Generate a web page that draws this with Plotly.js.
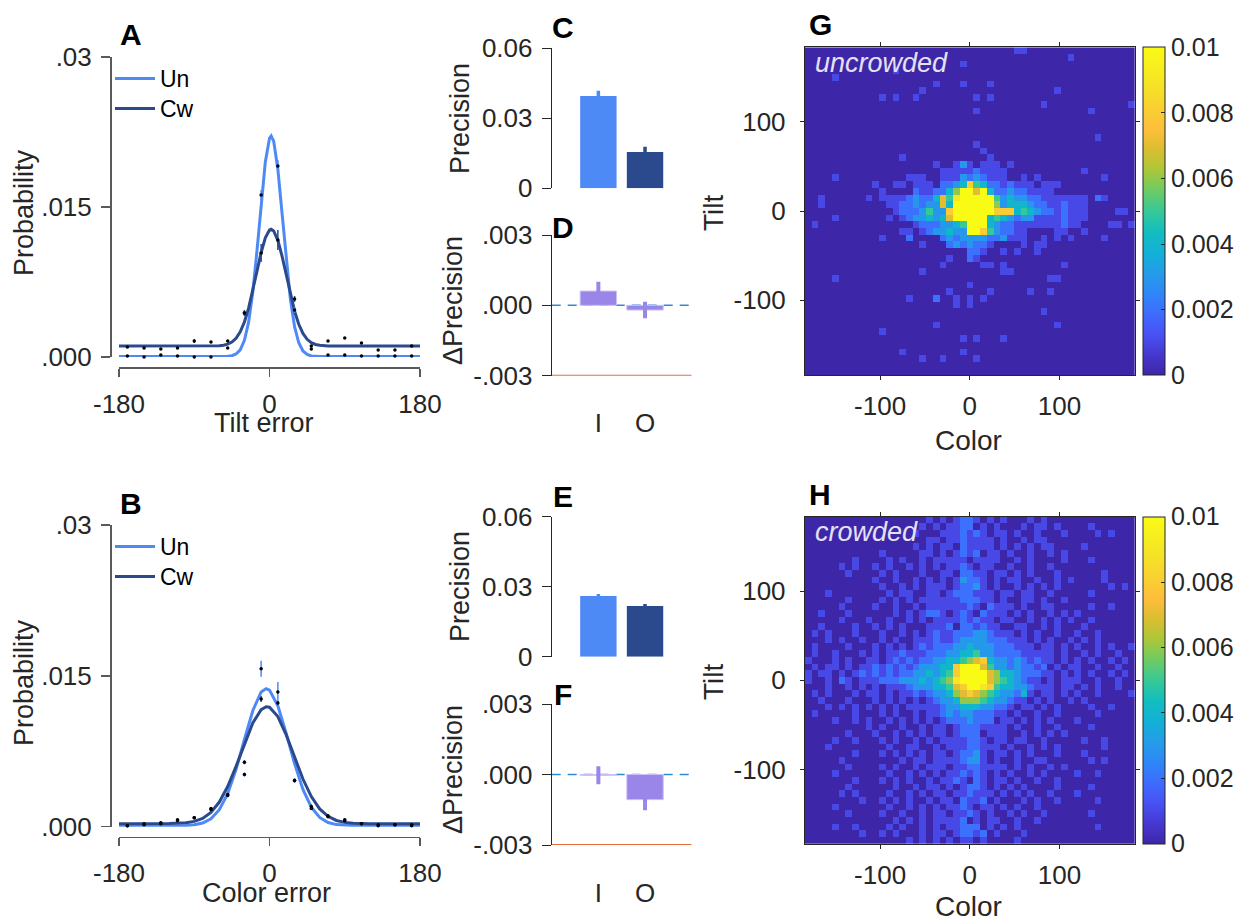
<!DOCTYPE html>
<html><head><meta charset="utf-8">
<script src="https://cdn.plot.ly/plotly-3.0.1.min.js"></script>
<style>html,body{margin:0;padding:0;background:#fff;} #chart{width:1245px;height:924px;}</style>
</head><body><div id="chart"></div>
<script>
// ---------- data: panels A/B (error distributions) ----------
const curveX = [-180,-120,-90,-70,-60,-55,-50,-45,-40,-35,-30,-25,-20,-15,-10,-5,0,2,5,10,15,20,25,30,35,40,45,50,55,60,70,90,120,180];
const tiltUnFit = [0.00005,0.00005,0.00005,0.00005,0.00005,0.00006,0.00007,0.00013,0.0003,0.00072,0.00167,0.00348,0.00646,0.0106,0.01532,0.01951,0.02187,0.0221,0.02159,0.01878,0.01438,0.0097,0.00577,0.00303,0.00142,0.0006,0.00025,0.00011,0.00007,0.00005,0.00005,0.00005,0.00005,0.00005];
const tiltCwFit = [0.0011,0.0011,0.0011,0.00111,0.00113,0.00118,0.00128,0.00149,0.00187,0.00251,0.0035,0.00489,0.00663,0.00857,0.01045,0.01192,0.0127,0.01277,0.01261,0.01167,0.01009,0.00818,0.00626,0.00458,0.00327,0.00236,0.00177,0.00143,0.00125,0.00117,0.00111,0.0011,0.0011,0.0011];
const curveXB = [-180,-150,-120,-100,-90,-80,-70,-60,-50,-40,-30,-20,-10,-4,0,10,20,30,40,50,60,70,80,90,100,120,150,180];
const colorUnFit = [0.0001,0.0001,0.0001,0.00012,0.00019,0.00036,0.00079,0.00169,0.00329,0.0057,0.00867,0.01153,0.0134,0.01373,0.01358,0.01202,0.00928,0.00627,0.00371,0.00194,0.00092,0.00042,0.00021,0.00013,0.00011,0.0001,0.0001,0.0001];
const colorCwFit = [0.0003,0.0003,0.00031,0.00039,0.00053,0.00083,0.00142,0.00245,0.00399,0.006,0.00826,0.01031,0.01164,0.01193,0.01188,0.01095,0.00913,0.0069,0.00474,0.003,0.00177,0.00103,0.00062,0.00043,0.00035,0.0003,0.0003,0.0003];

const errBins = [-170,-150,-130,-110,-90,-70,-50,-30,-10,10,30,50,70,90,110,130,150,170];
const tiltUnObs = [0.0001,0.0000,0.0002,0.0001,0.0000,0.0000,0.0009,0.0044,0.0162,0.0191,0.0047,0.0008,0.0002,0.0002,0.0001,0.0001,0.0001,0.0001];
const tiltUnSem = [0.0001,0.0001,0.0001,0.0001,0.0001,0.0001,0.0001,0.0002,0.0005,0.0006,0.0003,0.0001,0.0001,0.0001,0.0001,0.0001,0.0001,0.0001];
const tiltCwObs = [0.0010,0.0009,0.0008,0.0009,0.0016,0.0015,0.0016,0.0044,0.0104,0.0117,0.0058,0.0011,0.0016,0.0019,0.0014,0.0007,0.0007,0.0011];
const tiltCwSem = [0.0001,0.0001,0.0001,0.0001,0.0002,0.0001,0.0001,0.0003,0.0009,0.0010,0.0003,0.0001,0.0001,0.0001,0.0001,0.0001,0.0001,0.0001];
const colorUnObs = [0.0001,0.0002,0.0003,0.0006,0.0009,0.0017,0.0031,0.0052,0.0157,0.0134,0.0046,0.0018,0.0010,0.0006,0.0003,0.0001,0.0002,0.0001];
const colorUnSem = [0.0001,0.0001,0.0001,0.0001,0.0001,0.0001,0.0001,0.0002,0.0008,0.0010,0.0002,0.0001,0.0001,0.0001,0.0001,0.0001,0.0001,0.0001];
const colorCwObs = [0.0001,0.0003,0.0004,0.0007,0.0009,0.0018,0.0032,0.0064,0.0127,0.0123,0.0046,0.0020,0.0011,0.0007,0.0003,0.0002,0.0002,0.0002];
const colorCwSem = [0.0001,0.0001,0.0001,0.0001,0.0001,0.0001,0.0001,0.0002,0.0003,0.0002,0.0002,0.0002,0.0001,0.0001,0.0001,0.0001,0.0001,0.0001];

// ---------- data: panels C-F (precision) ----------
const condLabels = ['I','O'];
const condPos = [1,2];
const precTilt = [0.0396, 0.0156];
const precTiltErr = [0.0022, 0.0022];
const dPrecTilt = [0.00061, -0.0002];
const dPrecTiltErr = [0.0004, 0.00035];
const precColor = [0.0260, 0.0217];
const precColorErr = [0.0009, 0.0009];
const dPrecColor = [-0.00003, -0.00107];
const dPrecColorErr = [0.00038, 0.00045];

// ---------- data: panels G/H (joint error histograms) ----------
const binCenters = [-180,-172.5,-165,-157.5,-150,-142.5,-135,-127.5,-120,-112.5,-105,-97.5,-90,-82.5,-75,-67.5,-60,-52.5,-45,-37.5,-30,-22.5,-15,-7.5,0,7.5,15,22.5,30,37.5,45,52.5,60,67.5,75,82.5,90,97.5,105,112.5,120,127.5,135,142.5,150,157.5,165,172.5,180];
// rows top (tilt +180) to bottom (tilt -180); '.'=0, digit d = d*0.001, 'a' >= 0.01
const uncrowdedRows = [
".......... .......... .......... .11....... .........",
".......... .......... .......... .........1 .........",
".......... .......... ...1...... .......... .........",
".......... ...1...... .......... .......... .........",
"....1..... .......... .......... .......... .........",
".......... .........1 ...1...1.. .......... .........",
".......... .......1.. .......... .......1.. .........",
".......... .1.1..1... .....1.1.. .......... .........",
".......... .......... .......... .....1.... ........1",
".......... .......... .....1.... .......... ..1......",
".......... .......... .......... .......... .........",
".......... .......... .......... .......... .........",
".......... .......... .......... .......... .........",
".......... .......... .......... .......... ...1.....",
".......... .......... .....1.... .......... .........",
".......... .......... ......1... .......... .........",
".......... ....1..... .......1.. .......... .........",
".......... .........1 ..131.111. 1......... .........",
".......... .......... 1111121111 .......... .1.......",
"....1..... .....111.. 1113232111 ..1.1..... ....1....",
".......... 1..11.111. 2234854221 2111.111.. .........",
".......... .1....2112 246aa7a422 3221111... .........",
"..1......1 .111123224 759aaaaa53 4332211111 11.21....",
"..1....... ..11223233 74aaaaaa63 4443221121 11.......",
".......... ...1222353 38aaaaaa88 8454322121 11....11.",
"....1..... ..1.123343 47aaaaa454 3233111121 11.......",
".1........ ......1222 3345aaa432 2111111121 1....11.1",
".......... ....11.123 3433aa8532 211....11. .1.......",
".......... .1...2.... 2323333223 111..1.1.1 ....1....",
".......... .......1.. .2323221.. ..1.11.... .........",
".......... .......... ....221..1 .1..1..... .........",
".......... .......... .1..21.... .......... .........",
".......... .......... 1.....11.1 ........1. .........",
".......... .......1.. .........1 1......... .........",
"....1..... .......... .......... ......11.. .........",
".......... .......... ....1..... .......... .........",
".......... .......... .1.....1.. ...1..1... .........",
".......... .....1...2 ..1.1.1... .......... .........",
".......... .......... ..1.1..... .......... .........",
".......... .......... .......... .....1.... .........",
".......... .......... .......... .......... .........",
".......... .........1 .......... .......1.. .........",
".......... .1........ .......... .......... .........",
".......... .......... ...1.1...1 .......... .........",
".......... .......... .......... .......... .........",
".......... ....1..... ...1...... .......... .........",
".......... .......1.. 1....1.... .......... .........",
".......... .......... .......... .......... .........",
".......... .......... .......... .......... ........."
];
const crowdedRows = [
".......... ........1. 1.1221.1.1 ...1.1.... .........",
".......... .......1.1 .1122.1.1. ..1.11.1.. ..1......",
".......... ......1... 1112121.11 .1..1...1. ...1.1...",
".......... ........11 .1121111.1 ..1.11.... .........",
".......... ......1.1. 11.21111.1 .1.1.11... .1.......",
".......... .1.....11. 1.1212.11. 1..1..1.1. .........",
".......1.. ..1.1..1.1 1111.1111. .1.1....1. ..1......",
".....1.1.. 1.1..1.1.1 .1121.11.. 1..1..1... .........",
"......1... .1.1...1.. 11.2211.11 .1.1...1.. ....1....",
".......... 1..1..1.1. 1.13221.1. 11..1..1.1 ....1....",
".......... .1..1.1.11 1.12231.1. .1.1.1.1.. .....1.1.",
"...1...... ..1.11..11 .1222111.1 1.11..1... ..1......",
"......1... .1.1.1.111 11122211.1 ..11.1..1. .........",
".....1.... 1..1..1.11 111121.211 1.1..11... ..1..1...",
"..1...1... ...1.1.122 1.121.2111 .1.1..1.1. 1........",
".....1...1 ..1..1.1.1 11121211.1 1..1.1.1.1 ..1......",
"..1....1.. 1.1.1...11 12.221211. .11..1.1.. .1.......",
".1.1...1.. .1..1.1.12 1122233211 1.1.1..1.. 1..1.....",
"...1.1..1. .1.1..1112 1123333222 111.1.1..1 .1.1.....",
".1....1... 1.1.1.1212 2233433322 2111.11.1. 1..1.1..1",
".1..1...1. 1.11211122 2334453322 2211111.1. .1.1..1..",
"1...1.1..1 1.12121223 3445678433 2321211.1. 1.1..1.1.",
".1.11.1.11 2121212333 448aaa7533 232212.1.1 1..1..1..",
"1.11.1.121 2121223343 458aaaa764 4322211.1. 1.1..1.1.",
"1..1.21.11 1222333434 569aaaa765 43211.1.11 1..1..1..",
"...1..1.1. 1.11123334 4578aa9854 4332111.11 .1.1..1..",
".1.1...1.1 1.1.112123 3467876543 3241.11.1. 1..1....1",
"..1...1... 1.1.1.1.12 3346665433 211.1.1..1 .1.......",
"...1.1.1.1 .1.1.11111 2334443322 1.11.1.1.. ..1..1...",
".1.....1.. .1.1..1.11 2323322211 .1..1..1.. ...1.....",
"....1..1.1 ..1.1.1.1. 12223222.1 1.1.1.1... 1........",
".........1 .1..1..1.1 1.12221111 .1..1..1.. ..1......",
"......1... 1..1.1.1.1 1.1222.111 ..1.1.1.1. .........",
"....1..1.. .1.1..1.1. 1111221.11 .11..1.... .1..1....",
"...1...... ..1..11..1 .11122111. 1..1.1.1.. ....1....",
".......1.. .1.1.1.1.1 1.12231.11 .1.1...1.. .1.......",
".....1.... ....1.11.1 1112331.1. .1..11.... ..1.1....",
"......1... .1.1..1.11 1.11221111 .1.1..1.1. .........",
"....1..... ..1..1.1.1 .112121.1. 1..1.1.... 1..1.....",
".......1.. .1.1.1..1. 1121.21.11 .1..1..1.. .........",
"......1... ...1..1.11 .1.1221.1. 1.1....1.. ..1......",
".....1.1.. ..1..1.1.1 1.112111.1 .1.1..1... 1........",
"........1. .1.1.1..1. 11.2112.1. ..1.1..1.. ...1.....",
"....1..... ..1..1.1.1 .1121.11.1 .1..1..... .........",
"......1... .1..1..1.1 1.1121.1.. 1.1..1.... ..1......",
".......... ...1.1.1.1 1112.1.11. .1..1..... .........",
"....1..1.. ..1.1..1.1 .11222.1.1 .1........ ...1.....",
"........1. .1.1...1.1 1.12212.1. ..1....... .........",
".......... .....1.1.1 .1.11.1... .1........ ........."
];
const cbTickVals = [0,0.002,0.004,0.006,0.008,0.01];
const cbTickText = ['0','0.002','0.004','0.006','0.008','0.01'];

// ---------- helpers ----------
const W = 1245, H = 924;
const px = v => v / W;
const py = v => 1 - v / H;
function parseGrid(rows){
  return rows.map(r => {
    const s = r.replace(/ /g,'');
    const out = [];
    for (let i = 0; i < binCenters.length; i++) {
      const ch = s[i] || '.';
      out.push(ch === '.' ? 0 : (ch === 'a' ? 0.011 : parseInt(ch, 10) * 0.001));
    }
    return out;
  }).reverse(); // bottom row first
}
const parula = [
  [0.000,'rgb(62,38,168)'],[0.063,'rgb(70,56,208)'],[0.125,'rgb(72,82,244)'],
  [0.188,'rgb(62,108,253)'],[0.250,'rgb(46,135,247)'],[0.313,'rgb(36,157,232)'],
  [0.375,'rgb(18,177,214)'],[0.438,'rgb(18,190,190)'],[0.500,'rgb(55,200,151)'],
  [0.563,'rgb(110,203,100)'],[0.625,'rgb(171,199,57)'],[0.688,'rgb(219,189,48)'],
  [0.750,'rgb(254,190,60)'],[0.875,'rgb(245,225,40)'],[1.000,'rgb(249,251,21)']
];

const unColor = '#4E8AF6', cwColor = '#2B4A8E';
const purple = '#9A86E8';
const axCol = '#262626';
const tickFont = {size: 26, color: axCol};

const traces = [];
// A
traces.push({x: curveX, y: tiltUnFit, type:'scatter', mode:'lines', line:{color:unColor, width:3}, name:'Un', xaxis:'x', yaxis:'y', legend:'legend', hoverinfo:'skip'});
traces.push({x: curveX, y: tiltCwFit, type:'scatter', mode:'lines', line:{color:cwColor, width:3}, name:'Cw', xaxis:'x', yaxis:'y', legend:'legend3', hoverinfo:'skip'});
traces.push({x: errBins, y: tiltUnObs, type:'scatter', mode:'markers', marker:{color:'#000', size:3.5}, error_y:{type:'data', array:tiltUnSem, color:unColor, thickness:1.5, width:0}, showlegend:false, xaxis:'x', yaxis:'y', cliponaxis:false, hoverinfo:'skip'});
traces.push({x: errBins, y: tiltCwObs, type:'scatter', mode:'markers', marker:{color:'#000', size:3.5}, error_y:{type:'data', array:tiltCwSem, color:cwColor, thickness:1.5, width:0}, showlegend:false, xaxis:'x', yaxis:'y', cliponaxis:false, hoverinfo:'skip'});
// B
traces.push({x: curveXB, y: colorUnFit, type:'scatter', mode:'lines', line:{color:unColor, width:3}, name:'Un', xaxis:'x2', yaxis:'y2', legend:'legend2', hoverinfo:'skip'});
traces.push({x: curveXB, y: colorCwFit, type:'scatter', mode:'lines', line:{color:cwColor, width:3}, name:'Cw', xaxis:'x2', yaxis:'y2', legend:'legend4', hoverinfo:'skip'});
traces.push({x: errBins, y: colorUnObs, type:'scatter', mode:'markers', marker:{color:'#000', size:3.5}, error_y:{type:'data', array:colorUnSem, color:unColor, thickness:1.5, width:0}, showlegend:false, xaxis:'x2', yaxis:'y2', cliponaxis:false, hoverinfo:'skip'});
traces.push({x: errBins, y: colorCwObs, type:'scatter', mode:'markers', marker:{color:'#000', size:3.5}, error_y:{type:'data', array:colorCwSem, color:cwColor, thickness:1.5, width:0}, showlegend:false, xaxis:'x2', yaxis:'y2', cliponaxis:false, hoverinfo:'skip'});
// C & E precision bars (one trace per condition so error bars match bar colour)
[[precTilt, precTiltErr, 'x3', 'y3'], [precColor, precColorErr, 'x5', 'y5']].forEach(([vals, errs, xa, ya]) => {
  [0,1].forEach(i => {
    const c = i === 0 ? unColor : cwColor;
    traces.push({type:'bar', x:[condPos[i]], y:[vals[i]], width:0.78, marker:{color:c, line:{width:0}},
      error_y:{type:'data', array:[errs[i]], color:c, thickness:3.5, width:0},
      showlegend:false, xaxis:xa, yaxis:ya, hoverinfo:'skip'});
  });
});
// D & F delta precision bars
[[dPrecTilt, dPrecTiltErr, 'x4', 'y4'], [dPrecColor, dPrecColorErr, 'x6', 'y6']].forEach(([vals, errs, xa, ya]) => {
  traces.push({type:'bar', x:condPos, y:vals, width:0.78, marker:{color:purple, line:{color:'#C9C0F6', width:1}},
    error_y:{type:'data', array:errs, color:purple, thickness:4, width:0},
    showlegend:false, xaxis:xa, yaxis:ya, hoverinfo:'skip'});
});
// G & H heatmaps
function cb(topPx, lenPx){
  return {x:px(1143.3), xanchor:'left', xref:'paper', y:py(topPx), yanchor:'top', yref:'paper',
    len:lenPx, lenmode:'pixels', thickness:22, thicknessmode:'pixels', xpad:0, ypad:0,
    outlinewidth:1, outlinecolor:axCol, tickvals:cbTickVals, ticktext:cbTickText,
    ticks:'inside', ticklen:4, tickcolor:axCol, tickfont:{size:25, color:axCol}};
}
traces.push({type:'heatmap', x:binCenters, y:binCenters, z:parseGrid(uncrowdedRows),
  colorscale:parula, zmin:0, zmax:0.01, zsmooth:false, xaxis:'x7', yaxis:'y7', colorbar:cb(47.3, 327.7), hoverinfo:'skip'});
traces.push({type:'heatmap', x:binCenters, y:binCenters, z:parseGrid(crowdedRows),
  colorscale:parula, zmin:0, zmax:0.01, zsmooth:false, xaxis:'x8', yaxis:'y8', colorbar:cb(516.7, 327.3), hoverinfo:'skip'});

// ---------- axes ----------
const grey = '#5a5a5a';
function errX(posPx){
  return {domain:[px(119), px(420)], range:[-180,180], anchor:'free', position:py(posPx),
    tickvals:[-180,0,180], ticktext:['-180','0','180'], ticks:'outside', ticklen:8, tickwidth:1.5, tickcolor:grey,
    showline:true, linecolor:grey, linewidth:1.5, zeroline:false, showgrid:false, tickfont:tickFont, ticklabelstandoff:5, automargin:false};
}
function errY(botPx, topPx){
  return {domain:[py(botPx), py(topPx)], range:[0,0.03], anchor:'free', position:px(110),
    tickvals:[0,0.015,0.03], ticktext:['.000','.015','.03'], ticks:'outside', ticklen:9, tickwidth:1.5, tickcolor:grey,
    showline:true, linecolor:grey, linewidth:1.5, zeroline:false, showgrid:false, tickfont:tickFont, ticklabelstandoff:4, automargin:false};
}
const barDom = [px(551.7), px(691.7)];
function barXHidden(ya){
  return {domain:barDom, range:[0,3], anchor:ya, showline:false, showticklabels:false, ticks:'', zeroline:false, showgrid:false, automargin:false};
}
function barXLabels(posPx){
  return {domain:barDom, range:[0,3], anchor:'free', position:py(posPx), showline:false, ticks:'', tickvals:condPos, ticktext:condLabels,
    zeroline:false, showgrid:false, tickfont:tickFont, automargin:false};
}
function precY(botPx, topPx, xa){
  return {domain:[py(botPx), py(topPx)], range:[0,0.06], anchor:xa, tickvals:[0,0.03,0.06], ticktext:['0','0.03','0.06'],
    ticks:'outside', ticklen:9, tickwidth:1, tickcolor:axCol, showline:true, linecolor:axCol, linewidth:1,
    zeroline:false, showgrid:false, tickfont:tickFont, ticklabelstandoff:4, automargin:false};
}
function dY(botPx, topPx, xa){
  return {domain:[py(botPx), py(topPx)], range:[-0.003,0.003], anchor:xa, tickvals:[-0.003,0,0.003], ticktext:['-.003','.000','.003'],
    ticks:'outside', ticklen:9, tickwidth:1, tickcolor:axCol, showline:true, linecolor:axCol, linewidth:1,
    zeroline:false, showgrid:false, tickfont:tickFont, ticklabelstandoff:4, automargin:false};
}
function hmX(ya){
  return {domain:[px(805), px(1134.7)], range:[-183.75,183.75], anchor:ya, tickvals:[-100,0,100], ticktext:['-100','0','100'],
    ticks:'outside', ticklen:4, tickcolor:axCol, showline:true, mirror:'ticks', linecolor:axCol, linewidth:1.2,
    zeroline:false, showgrid:false, tickfont:tickFont, ticklabelstandoff:4, automargin:false};
}
function hmY(botPx, topPx, xa){
  return {domain:[py(botPx), py(topPx)], range:[-183.75,183.75], anchor:xa, tickvals:[-100,0,100], ticktext:['-100','0','100'],
    ticks:'outside', ticklen:4, tickcolor:axCol, showline:true, mirror:'ticks', linecolor:axCol, linewidth:1.2,
    zeroline:false, showgrid:false, tickfont:tickFont, ticklabelstandoff:9, automargin:false};
}

// ---------- annotations ----------
const ann = [];
function txt(text, xPx, yPx, opts){
  ann.push(Object.assign({text:text, x:px(xPx), y:py(yPx), xref:'paper', yref:'paper', showarrow:false,
    xanchor:'center', yanchor:'middle', font:{size:27, color:axCol}}, opts || {}));
}
const letterFont = {size:30, color:'#000', family:'Liberation Sans, Arial, sans-serif', weight:'bold'};
[['A',131,34],['B',131,503],['C',562.5,28],['D',563,227],['E',562.5,497],['F',563,694],['G',820,25],['H',820,494]].forEach(([t,x,y]) => txt('<b>'+t+'</b>', x, y, {font:letterFont}));
txt('Probability', 24, 213, {textangle:-90});
txt('Probability', 24, 683, {textangle:-90});
txt('Tilt error', 264, 423);
txt('Color error', 266, 893);
txt('Precision', 460, 119, {textangle:-90});
txt('Precision', 460, 587, {textangle:-90});
txt('ΔPrecision', 453, 301, {textangle:-90});
txt('ΔPrecision', 453, 770, {textangle:-90});
txt('Tilt', 713, 212, {textangle:-90, font:{size:28, color:axCol}});
txt('Tilt', 713, 681, {textangle:-90, font:{size:28, color:axCol}});
txt('Color', 968, 440, {font:{size:28, color:axCol}});
txt('Color', 968, 906, {font:{size:28, color:axCol}});
txt('<i>uncrowded</i>', 813, 63, {xanchor:'left', font:{size:27, color:'#E4E0F6'}});
txt('<i>crowded</i>', 813, 532, {xanchor:'left', font:{size:27, color:'#E4E0F6'}});

// ---------- reference lines in D/F ----------
const shapes = [];
[['x4','y4'],['x6','y6']].forEach(([xa,ya]) => {
  shapes.push({type:'line', xref:xa, yref:ya, x0:0, x1:3, y0:0, y1:0, layer:'below', line:{color:'#2F8AD6', width:1.5, dash:'9px,7px'}});
  shapes.push({type:'line', xref:xa, yref:ya, x0:0, x1:3, y0:-0.003, y1:-0.003, layer:'above', line:{color:'#E2703A', width:2}});
});

const legendBase = {xref:'paper', yref:'paper', xanchor:'left', yanchor:'top', bgcolor:'rgba(0,0,0,0)', borderwidth:0,
  font:{size:23, color:'#000'}, itemwidth:40, tracegroupgap:0};

const layout = {
  width:W, height:H, margin:{l:0, r:0, t:0, b:0, pad:0, autoexpand:false},
  paper_bgcolor:'#fff', plot_bgcolor:'rgba(0,0,0,0)',
  font:{family:'Liberation Sans, Arial, Helvetica, sans-serif', color:axCol},
  barmode:'overlay', showlegend:true,
  legend:Object.assign({x:px(110), y:py(57)}, legendBase),
  legend3:Object.assign({x:px(110), y:py(87)}, legendBase),
  legend2:Object.assign({x:px(110), y:py(525)}, legendBase),
  legend4:Object.assign({x:px(110), y:py(555)}, legendBase),
  xaxis:errX(367), yaxis:errY(357, 57),
  xaxis2:errX(836.7), yaxis2:errY(826.7, 525),
  xaxis3:barXHidden('y3'), yaxis3:precY(188.3, 48.3, 'x3'),
  xaxis4:barXLabels(405), yaxis4:dY(375.7, 235, 'x4'),
  xaxis5:barXHidden('y5'), yaxis5:precY(656.7, 516.7, 'x5'),
  xaxis6:barXLabels(875), yaxis6:dY(845, 704, 'x6'),
  xaxis7:hmX('y7'), yaxis7:hmY(375, 47.3, 'x7'),
  xaxis8:hmX('y8'), yaxis8:hmY(844, 516.7, 'x8'),
  annotations:ann, shapes:shapes
};

Plotly.newPlot('chart', traces, layout, {displayModeBar:false, staticPlot:true});
</script></body></html>
